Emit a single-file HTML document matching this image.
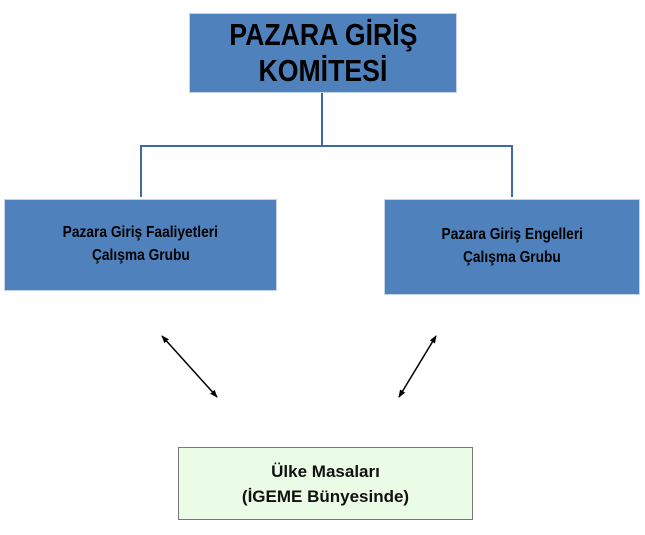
<!DOCTYPE html>
<html><head><meta charset="utf-8"><style>
body{margin:0;width:645px;height:535px;background:#fff;position:relative;overflow:hidden;font-family:"Liberation Sans",sans-serif}
.b{position:absolute;background:#4f81bd;border:1px solid #c5d3e8;box-sizing:border-box;display:flex;flex-direction:column;align-items:center;justify-content:center;text-align:center;color:#000;font-weight:bold}
.b span{display:inline-block;transform:scaleX(0.86);white-space:nowrap}
</style></head><body>
<svg width="645" height="535" style="position:absolute;left:0;top:0">
<defs><marker id="a" markerWidth="8" markerHeight="8" refX="7" refY="4" orient="auto-start-reverse" markerUnits="userSpaceOnUse"><path d="M0,1 L8,4 L0,7z" fill="#000"/></marker></defs>
<g stroke="#3e6aa0" stroke-width="2" fill="none">
<path d="M322 93 V146 M141 146 H512 M141 145 V197 M512 145 V197"/>
</g>
<line x1="162" y1="336" x2="217" y2="397" stroke="#000" stroke-width="1.5" marker-start="url(#a)" marker-end="url(#a)"/>
<line x1="436" y1="336" x2="399" y2="397" stroke="#000" stroke-width="1.5" marker-start="url(#a)" marker-end="url(#a)"/>
</svg>
<div class="b" style="left:189px;top:13px;width:268px;height:80px;font-size:31px;line-height:36px"><span>PAZARA GİRİŞ</span><span>KOMİTESİ</span></div>
<div class="b" style="left:4px;top:199px;width:273px;height:92px;font-size:16px;line-height:23px;padding-bottom:2px"><span>Pazara Giriş Faaliyetleri</span><span>Çalışma Grubu</span></div>
<div class="b" style="left:384px;top:199px;width:256px;height:96px;font-size:16px;line-height:23px;padding-bottom:2px"><span>Pazara Giriş Engelleri</span><span>Çalışma Grubu</span></div>
<div style="position:absolute;left:178px;top:447px;width:295px;height:73px;box-sizing:border-box;background:#eafbe6;border:1px solid #777;display:flex;flex-direction:column;align-items:center;justify-content:center;text-align:center;font-size:17px;font-weight:bold;line-height:25px;color:#111"><div>Ülke Masaları</div><div>(İGEME Bünyesinde)</div></div>
</body></html>
